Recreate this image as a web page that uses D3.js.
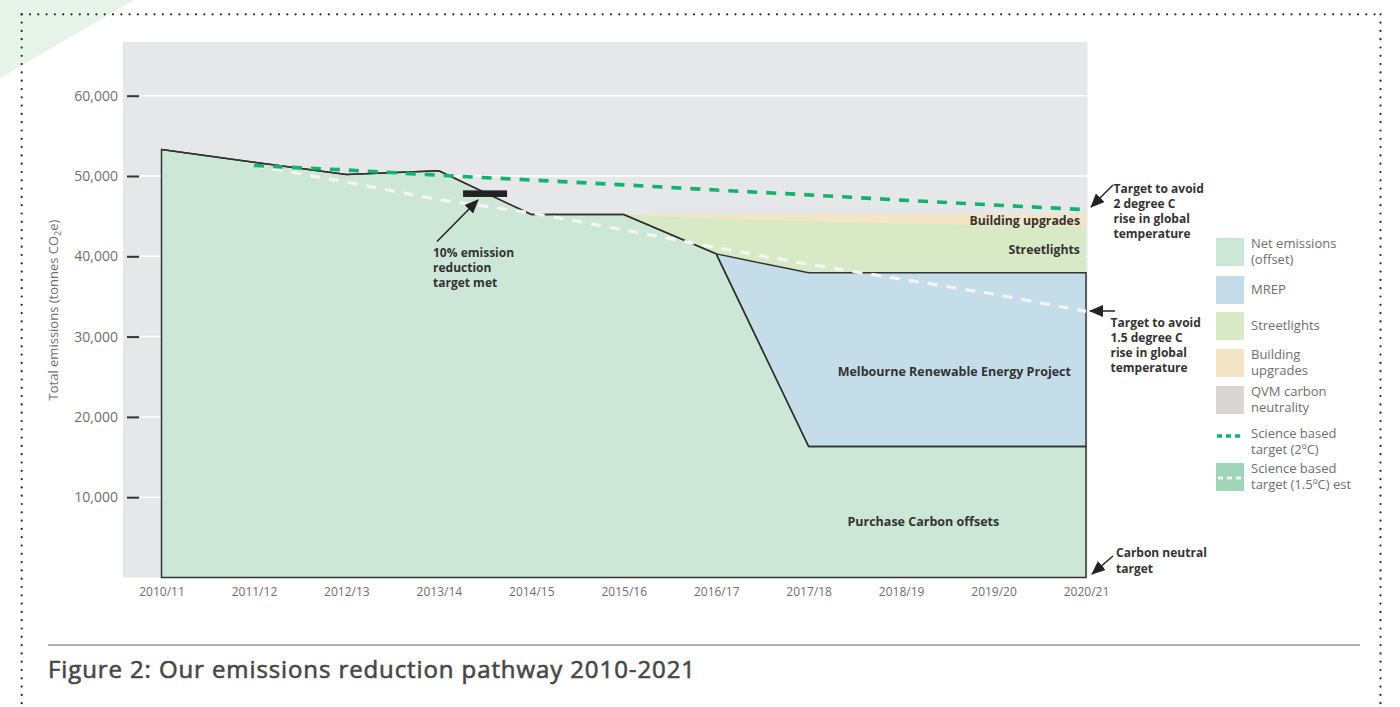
<!DOCTYPE html>
<html><head><meta charset="utf-8">
<script src="https://cdn.jsdelivr.net/npm/d3@7"></script>
<style>
html,body{margin:0;padding:0;background:#fff;}
svg{display:block;font-family:"Open Sans",sans-serif;}
</style></head><body>
<svg id="c" width="1400" height="707"></svg>
<script>
// ---------- data ----------
const years = ["2010/11","2011/12","2012/13","2013/14","2014/15","2015/16","2016/17","2017/18","2018/19","2019/20","2020/21"];
const netEmissions     = [53300, 51700, 50200, 50650, 45200, 45200, 40300, 16300, 16300, 16300, 16300];
const mrep             = [0, 0, 0, 0, 0, 0, 0, 21650, 21650, 21650, 21650];
const streetlights     = [0, 0, 0, 0, 0, 0, 4400, 6450, 6200, 5950, 5750];
const buildingUpgrades = [0, 0, 0, 0, 0, 0, 500, 830, 1080, 1330, 1530];
const qvmCarbon        = [0, 0, 0, 0, 0, 0, 0, 0, 0, 0, 0];
const target2C  = [null, 51300, 50750, 50100, 49500, 48900, 48250, 47650, 47000, 46400, 45800];
const target15C = [null, 51300, 49250, 47050, 45400, 43300, 41100, 39000, 37150, 35300, 33150];
const yTicks = [10000, 20000, 30000, 40000, 50000, 60000];
const tenPercentTarget = 47800;

const seriesKeys = ["net","mrep","streetlights","building","qvm"];
const seriesColors = {net:"#cde7d7", mrep:"#c5dde8", streetlights:"#d8eac5", building:"#f3e5c6", qvm:"#dad7d2"};
const legendItems = [
  {type:"box", color:"#cde7d7", lines:["Net emissions","(offset)"]},
  {type:"box", color:"#c5dde8", lines:["MREP"]},
  {type:"box", color:"#d8eac5", lines:["Streetlights"]},
  {type:"box", color:"#f3e5c6", lines:["Building","upgrades"]},
  {type:"box", color:"#dad7d2", lines:["QVM carbon","neutrality"]},
  {type:"line2", color:"#12b36d", lines:["Science based","target (2ºC)"]},
  {type:"box15", color:"#9fd5b9", lines:["Science based","target (1.5ºC) est"]}
];

const rows = years.map((yr,i)=>({year:yr, net:netEmissions[i], mrep:mrep[i], streetlights:streetlights[i], building:buildingUpgrades[i], qvm:qvmCarbon[i]}));

// ---------- layout ----------
const svg = d3.select("#c");
const x = d3.scalePoint().domain(years).range([161.5, 1086]);
const y = d3.scaleLinear().domain([0, 60000]).range([577.5, 95.7]);

// decorative corner
svg.append("path").attr("d","M0,0 L134,0 L0,78 Z").attr("fill","#e6f3e9");
// dotted frame
const dot = {stroke:"#222", "stroke-width":2.2, "stroke-dasharray":"0 8.3", "stroke-linecap":"round"};
function dl(x1,y1,x2,y2){const l=svg.append("line").attr("x1",x1).attr("y1",y1).attr("x2",x2).attr("y2",y2); for(const k in dot) l.attr(k,dot[k]);}
dl(21.7,14.3,1381,14.3); dl(21.7,14.3,21.7,707); dl(1380.5,14.3,1380.5,707);

// plot background
const bgLeft = x(years[0]) - 38.5, bgRight = x(years[years.length-1]) + 1.5;
svg.append("rect").attr("x",bgLeft).attr("y",y(66700)).attr("width",bgRight-bgLeft).attr("height",y(0)-y(66700)).attr("fill","#e6e7e9");

// gridlines
svg.append("g").selectAll("line").data(yTicks).join("line")
  .attr("x1",140).attr("x2",bgRight).attr("y1",d=>y(d)).attr("y2",d=>y(d))
  .attr("stroke","#fff").attr("stroke-width",1.5);

// stacked areas
const stack = d3.stack().keys(seriesKeys)(rows);
const area = d3.area().x((d,i)=>x(years[i])).y0(d=>y(d[0])).y1(d=>y(d[1]));
svg.append("g").selectAll("path").data(stack).join("path")
  .attr("d",area).attr("fill",d=>seriesColors[d.key]);
// outlines of net and MREP
svg.append("g").selectAll("path").data(stack.slice(0,2)).join("path")
  .attr("d",area).attr("fill","none").attr("stroke","#333").attr("stroke-width",1.5).attr("stroke-linejoin","miter");

// target lines
const tline = d3.line().defined(d=>d.v!=null).x(d=>x(d.year)).y(d=>y(d.v));
svg.append("path").attr("d",tline(years.map((yr,i)=>({year:yr,v:target15C[i]}))))
  .attr("fill","none").attr("stroke","#f4f4f4").attr("stroke-width",3.2).attr("stroke-dasharray","10 9");
svg.append("path").attr("d",tline(years.map((yr,i)=>({year:yr,v:target2C[i]}))))
  .attr("fill","none").attr("stroke","#12b36d").attr("stroke-width",3.6).attr("stroke-dasharray","10 9");

// arrow marker
const defs = svg.append("defs");
defs.append("marker").attr("id","ah").attr("viewBox","0 0 14 12").attr("refX",13).attr("refY",6)
  .attr("markerWidth",14).attr("markerHeight",12).attr("markerUnits","userSpaceOnUse").attr("orient","auto")
  .append("path").attr("d","M0,0 L14,6 L0,12 Z").attr("fill","#222");
function arrow(x1,y1,x2,y2){svg.append("line").attr("x1",x1).attr("y1",y1).attr("x2",x2).attr("y2",y2).attr("stroke","#222").attr("stroke-width",1.5).attr("marker-end","url(#ah)");}

// 10% target bar
const barCx = (x(years[3])+x(years[4]))/2;
svg.append("rect").attr("x",barCx-22).attr("y",y(tenPercentTarget)-3.3).attr("width",44).attr("height",6.6).attr("fill","#222");
arrow(437,241.5,478,200);

function multiText(xp, yBase, lines, opts){
  const t = svg.append("text").attr("x",xp).attr("y",yBase)
    .attr("font-size",opts.size||12).attr("font-weight",opts.weight||700).attr("fill",opts.fill||"#333")
    .attr("text-anchor",opts.anchor||"start");
  lines.forEach((l,i)=>t.append("tspan").attr("x",xp).attr("dy",i?(opts.lh||15):0).text(l));
  return t;
}
multiText(433, 257, ["10% emission","reduction","target met"], {});
// right annotations
multiText(1113.5, 192.5, ["Target to avoid","2 degree C","rise in global","temperature"], {});
arrow(1113,185,1091,207);
multiText(1110.5, 327, ["Target to avoid","1.5 degree C","rise in global","temperature"], {});
arrow(1115,311,1090,311);
multiText(1116, 556.5, ["Carbon neutral","target"], {lh:16});
arrow(1113,556,1092,574);

// in-chart labels
const last = years[years.length-1], li = years.length-1;
svg.append("text").attr("x",x(last)-6).attr("y",y(netEmissions[li]+mrep[li]+streetlights[li]+buildingUpgrades[li]/2)).attr("dy","0.35em")
  .attr("text-anchor","end").attr("font-size",12.3).attr("font-weight",700).attr("fill","#333").text("Building upgrades");
svg.append("text").attr("x",x(last)-6).attr("y",y(netEmissions[li]+mrep[li]+streetlights[li]/2)).attr("dy","0.35em")
  .attr("text-anchor","end").attr("font-size",12.3).attr("font-weight",700).attr("fill","#333").text("Streetlights");
svg.append("text").attr("x",(x(years[7])+x(last))/2+7).attr("y",y(25600)).attr("dy","0.35em")
  .attr("text-anchor","middle").attr("font-size",12.5).attr("font-weight",700).attr("fill","#333").text("Melbourne Renewable Energy Project");
svg.append("text").attr("x",(x(years[7])+x(last))/2-24).attr("y",y(6900)).attr("dy","0.35em")
  .attr("text-anchor","middle").attr("font-size",12.5).attr("font-weight",700).attr("fill","#333").text("Purchase Carbon offsets");

// axes
const yAxis = svg.append("g").attr("transform","translate(139,0)")
  .call(d3.axisLeft(y).tickValues(yTicks).tickSize(12).tickPadding(9).tickFormat(d3.format(",")));
yAxis.select(".domain").remove();
yAxis.selectAll(".tick line").attr("stroke","#333").attr("stroke-width",2);
yAxis.selectAll(".tick text").attr("font-size",14).attr("fill","#6d6e70").attr("font-family","Open Sans");

const xAxis = svg.append("g").attr("transform",`translate(0,${y(0)})`)
  .call(d3.axisBottom(x).tickSize(0).tickPadding(10));
xAxis.select(".domain").remove();
xAxis.selectAll(".tick text").attr("font-size",12).attr("fill","#6d6e70").attr("font-family","Open Sans");

// y-axis title
const yt = svg.append("text").attr("transform","translate(58,310) rotate(-90)").attr("text-anchor","middle")
  .attr("font-size",13).attr("fill","#6d6e70");
yt.append("tspan").text("Total emissions (tonnes CO");
yt.append("tspan").attr("font-size",9).attr("dy",3).text("2");
yt.append("tspan").attr("dy",-3).text("e)");

// legend
const lg = svg.append("g").attr("transform","translate(1216,238)");
const legendY = [0,38,74,111,148,190,225];
legendItems.forEach((it,i)=>{
  const g = lg.append("g").attr("transform",`translate(0,${legendY[i]})`);
  if(it.type==="box"||it.type==="box15"){
    g.append("rect").attr("width",28).attr("height",28).attr("fill",it.color);
    if(it.type==="box15") g.append("line").attr("x1",2).attr("x2",28).attr("y1",15).attr("y2",15)
      .attr("stroke","#f4f4f4").attr("stroke-width",3).attr("stroke-dasharray","5 4");
  } else {
    g.append("line").attr("x1",1).attr("x2",28).attr("y1",8).attr("y2",8)
      .attr("stroke",it.color).attr("stroke-width",3.5).attr("stroke-dasharray","5 4");
  }
  const single = it.lines.length===1;
  const t = g.append("text").attr("x",35).attr("y",single?18:10).attr("font-size",13).attr("fill","#6d6e70");
  it.lines.forEach((l,j)=>t.append("tspan").attr("x",35).attr("dy",j?15.5:0).text(l));
});

// footer
svg.append("line").attr("x1",48).attr("x2",1360).attr("y1",645).attr("y2",645).attr("stroke","#666").attr("stroke-width",1);
svg.append("text").attr("x",48).attr("y",678).attr("font-size",24).attr("font-weight",400).attr("fill","#474747")
  .attr("stroke","#474747").attr("stroke-width",0.6)
  .attr("textLength",647).attr("lengthAdjust","spacing")
  .text("Figure 2: Our emissions reduction pathway 2010-2021");
</script>
</body></html>
